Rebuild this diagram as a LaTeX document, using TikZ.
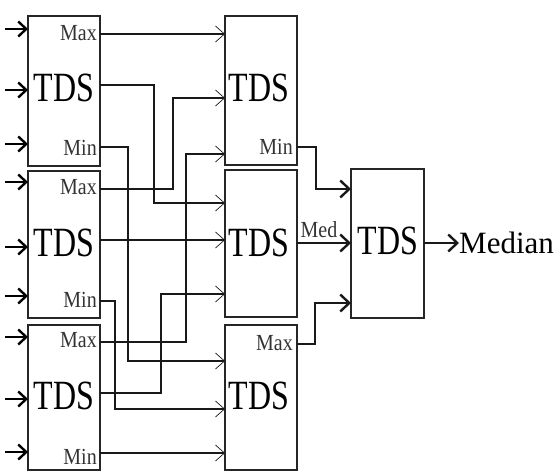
\documentclass[tikz,border=0pt]{standalone}
\usepackage{fontspec}
\setmainfont{Liberation Serif}
\usepackage{graphicx}
\usetikzlibrary{arrows.meta}
\definecolor{lbl}{HTML}{333333}
\tikzset{
  box/.style={draw=black!85, line width=2.2pt, inner sep=0pt, minimum width=72pt},
  big/.style={inner sep=0pt, font=\fontsize{32}{32}\selectfont},
  port/.style={inner sep=0pt, text=lbl, font=\fontsize{20}{20}\selectfont},
  inarrow/.style={line width=2.4pt, -{Straight Barb[length=8pt,width=15pt,line width=2.4pt]}},
  conn/.style={line width=1.2pt, draw=black!90, -{Straight Barb[length=9pt,width=16pt,line width=0.7pt]}},
  fconn/.style={line width=2.2pt, draw=black!90, -{Straight Barb[length=9pt,width=17pt,line width=2.4pt]}},
}
\newcommand{\TDSt}{\scalebox{1}[1.3]{TDS}}
\newcommand{\Pt}[1]{\scalebox{1}[1.15]{#1}}
\begin{document}
\begin{tikzpicture}[x=1pt,y=-1pt]
\useasboundingbox (0,0) rectangle (560,473);
% boxes
\node[box, minimum height=150pt] (L1) at (64,91) {};
\node[box, minimum height=147pt] (L2) at (64,244.5) {};
\node[box, minimum height=145pt] (L3) at (64,397.5) {};
\node[box, minimum height=149pt] (M1) at (261,90.5) {};
\node[box, minimum height=147pt] (M2) at (261,243.5) {};
\node[box, minimum height=145pt] (M3) at (261,397.5) {};
\node[box, minimum width=73pt, minimum height=149pt] (F) at (387.5,243.5) {};
% TDS texts
\node[big] (t1) at (64,88) {\TDSt};
\node[big] (t2) at (64,243) {\TDSt};
\node[big] (t3) at (64,396) {\TDSt};
\node[big] (t4) at (259,88) {\TDSt};
\node[big] (t5) at (259,243) {\TDSt};
\node[big] (t6) at (259,396) {\TDSt};
\node[big] (t7) at (388,241) {\TDSt};
% port labels
\node[port, anchor=east] (p1) at (97,33.5) {\Pt{Max}};
\node[port, anchor=east] (p2) at (97,148) {\Pt{Min}};
\node[port, anchor=east] (p3) at (97,187) {\Pt{Max}};
\node[port, anchor=east] (p4) at (97,300) {\Pt{Min}};
\node[port, anchor=east] (p5) at (97,340) {\Pt{Max}};
\node[port, anchor=east] (p6) at (97,457) {\Pt{Min}};
\node[port, anchor=east] (p7) at (293,147) {\Pt{Min}};
\node[port, anchor=east] (p8) at (293,343) {\Pt{Max}};
\node[port, anchor=south] (p9) at (319,238) {\Pt{Med}};
% input arrows
\foreach \y/\n in {29/1,90/2,144/3,182/4,247/5,296/6,337/7,399/8,452/9}{
  \coordinate (s\n) at (5,\y);
  \coordinate (e\n) at (28,\y);
  \draw[inarrow] (s\n) -- (e\n);
}
% output ports of left boxes
\coordinate (L1max) at (100,34);  \coordinate (L1med) at (100,85);  \coordinate (L1min) at (100,147);
\coordinate (L2max) at (100,189); \coordinate (L2med) at (100,240); \coordinate (L2min) at (100,301);
\coordinate (L3max) at (100,342); \coordinate (L3med) at (100,393); \coordinate (L3min) at (100,453);
% inputs of middle boxes
\coordinate (M1a) at (225,34);  \coordinate (M1b) at (225,98);  \coordinate (M1c) at (225,154);
\coordinate (M2a) at (225,203); \coordinate (M2b) at (225,240); \coordinate (M2c) at (225,294);
\coordinate (M3a) at (225,361); \coordinate (M3b) at (225,409); \coordinate (M3c) at (225,453);
% connectors
\draw[conn] (L1max) -- (M1a);
\draw[conn] (L1med) -- ++(54,0) |- (M2a);
\draw[conn] (L1min) -- ++(28,0) |- (M3a);
\draw[conn] (L2max) -- ++(73,0) |- (M1b);
\draw[conn] (L2med) -- (M2b);
\draw[conn] (L2min) -- ++(15,0) |- (M3b);
\draw[conn] (L3max) -- ++(86,0) |- (M1c);
\draw[conn] (L3med) -- ++(61,0) |- (M2c);
\draw[conn] (L3min) -- (M3c);
% final stage
\coordinate (M1min) at (297,147);
\coordinate (M2med) at (297,243);
\coordinate (M3max) at (297,344);
\coordinate (Fa) at (351,189);
\coordinate (Fb) at (351,243);
\coordinate (Fc) at (351,303);
\coordinate (Fo) at (424,243);
\coordinate (Oe) at (459,243);
\draw[fconn] (M1min) -- ++(19,0) |- (Fa);
\draw[fconn] (M2med) -- (Fb);
\draw[fconn] (M3max) -- ++(18,0) |- (Fc);
\draw[fconn] (Fo) -- (Oe);
\node[anchor=west, inner sep=0pt, font=\fontsize{31}{31}\selectfont] (med) at (Oe) {Median};
\end{tikzpicture}
\end{document}
